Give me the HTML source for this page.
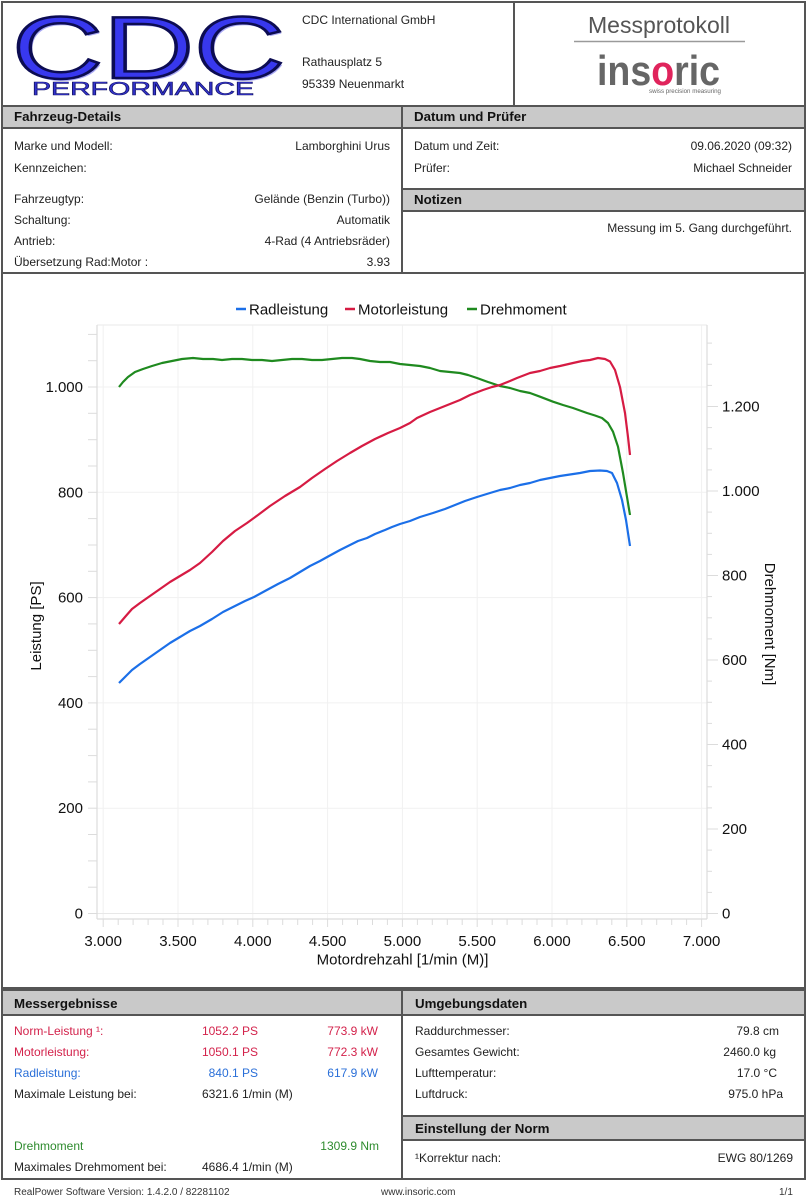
<!DOCTYPE html>
<html><head><meta charset="utf-8">
<style>
html,body{margin:0;padding:0;background:#fff;}
body{width:807px;height:1200px;position:relative;overflow:hidden;font-family:"Liberation Sans","DejaVu Sans",sans-serif;font-size:12px;color:#222;}
.box{position:absolute;border:2px solid #555;box-sizing:border-box;}
.bar{position:absolute;background:#c9c9c9;border-bottom:2px solid #555;box-sizing:border-box;}
.bt{position:absolute;font-weight:bold;font-size:13.3px;line-height:16px;color:#111;white-space:nowrap;}
.t{position:absolute;line-height:14px;white-space:nowrap;}
.r{text-align:right;}
.red{color:#d3224b;}
.blue{color:#2a6fd8;}
.green{color:#2e8b2e;}
</style></head>
<body>

<!-- Header -->
<div class="box" style="left:1px;top:1px;width:805px;height:106px;"></div>
<div style="position:absolute;left:513px;top:1px;width:2px;height:105px;background:#555;"></div>

<svg style="position:absolute;left:0;top:0" width="300" height="105" viewBox="0 0 300 105">
  <text x="14" y="80" font-family="Liberation Sans, sans-serif" font-size="88" textLength="273" lengthAdjust="spacingAndGlyphs" fill="#a9a9f5">CDC</text>
  <text x="12" y="78" font-family="Liberation Sans, sans-serif" font-size="88" textLength="273" lengthAdjust="spacingAndGlyphs" fill="#3838ee" stroke="#0c0c52" stroke-width="2.5">CDC</text>
  <text x="32" y="95" font-family="Liberation Sans, sans-serif" font-size="18" textLength="222" lengthAdjust="spacingAndGlyphs" fill="#3434d0" stroke="#14146a" stroke-width="0.6">PERFORMANCE</text>
</svg>

<div class="t" style="left:302px;top:13px;">CDC International GmbH</div>
<div class="t" style="left:302px;top:55px;">Rathausplatz 5</div>
<div class="t" style="left:302px;top:77px;">95339 Neuenmarkt</div>

<svg style="position:absolute;left:515px;top:3px" width="290" height="102" viewBox="515 3 290 102">
  <text x="659" y="33" text-anchor="middle" font-family="Liberation Sans, sans-serif" font-size="23" fill="#555" textLength="142" lengthAdjust="spacingAndGlyphs">Messprotokoll</text>
  <line x1="574" y1="41.5" x2="745" y2="41.5" stroke="#9a9a9a" stroke-width="1.5"/>
  <text x="597" y="85" font-family="Liberation Sans, sans-serif" font-weight="bold" font-size="42" fill="#666" textLength="123" lengthAdjust="spacingAndGlyphs">ins<tspan fill="#e0245c">o</tspan>ric</text>
  <text x="649" y="93" font-family="Liberation Sans, sans-serif" font-size="6.5" fill="#666" textLength="72" lengthAdjust="spacingAndGlyphs">swiss precision measuring</text>
</svg>

<!-- Fahrzeug-Details -->
<div class="box" style="left:1px;top:105px;width:402px;height:169px;"></div>
<div class="bar" style="left:3px;top:107px;width:398px;height:22px;"></div>
<div class="bt" style="left:14px;top:109px;">Fahrzeug-Details</div>
<div class="t" style="left:14px;top:139px;">Marke und Modell:</div>
<div class="t r" style="right:417px;top:139px;">Lamborghini Urus</div>
<div class="t" style="left:14px;top:161px;">Kennzeichen:</div>
<div class="t" style="left:14px;top:192px;">Fahrzeugtyp:</div>
<div class="t r" style="right:417px;top:192px;">Gelände (Benzin (Turbo))</div>
<div class="t" style="left:14px;top:213px;">Schaltung:</div>
<div class="t r" style="right:417px;top:213px;">Automatik</div>
<div class="t" style="left:14px;top:234px;">Antrieb:</div>
<div class="t r" style="right:417px;top:234px;">4-Rad (4 Antriebsräder)</div>
<div class="t" style="left:14px;top:255px;">Übersetzung Rad:Motor :</div>
<div class="t r" style="right:417px;top:255px;">3.93</div>

<!-- Datum und Prüfer -->
<div class="box" style="left:401px;top:105px;width:405px;height:85px;"></div>
<div class="bar" style="left:403px;top:107px;width:401px;height:22px;"></div>
<div class="bt" style="left:414px;top:109px;">Datum und Prüfer</div>
<div class="t" style="left:414px;top:139px;">Datum und Zeit:</div>
<div class="t r" style="right:15px;top:139px;">09.06.2020 (09:32)</div>
<div class="t" style="left:414px;top:161px;">Prüfer:</div>
<div class="t r" style="right:15px;top:161px;">Michael Schneider</div>

<!-- Notizen -->
<div class="box" style="left:401px;top:188px;width:405px;height:86px;"></div>
<div class="bar" style="left:403px;top:190px;width:401px;height:22px;"></div>
<div class="bt" style="left:414px;top:192px;">Notizen</div>
<div class="t r" style="right:15px;top:221px;">Messung im 5. Gang durchgeführt.</div>

<!-- Chart box -->
<div class="box" style="left:1px;top:272px;width:805px;height:717px;"></div>

<svg style="position:absolute;left:0;top:0" width="807" height="1000" viewBox="0 0 807 1000" font-family="Liberation Sans, DejaVu Sans, sans-serif">
  <!-- grid -->
  <g stroke="#f1f1f1" stroke-width="1">
    <line x1="97" y1="808.2" x2="707" y2="808.2"/>
    <line x1="97" y1="702.9" x2="707" y2="702.9"/>
    <line x1="97" y1="597.6" x2="707" y2="597.6"/>
    <line x1="97" y1="492.3" x2="707" y2="492.3"/>
    <line x1="97" y1="387" x2="707" y2="387"/>
    <line x1="103.2" y1="325" x2="103.2" y2="919"/>
    <line x1="178" y1="325" x2="178" y2="919"/>
    <line x1="252.8" y1="325" x2="252.8" y2="919"/>
    <line x1="327.6" y1="325" x2="327.6" y2="919"/>
    <line x1="402.4" y1="325" x2="402.4" y2="919"/>
    <line x1="477.2" y1="325" x2="477.2" y2="919"/>
    <line x1="552" y1="325" x2="552" y2="919"/>
    <line x1="626.8" y1="325" x2="626.8" y2="919"/>
    <line x1="701.6" y1="325" x2="701.6" y2="919"/>
  </g>
  <line x1="97" y1="913.5" x2="707" y2="913.5" stroke="#e8e8e8"/>
  <!-- frame -->
  <g stroke="#dcdcdc" stroke-width="1.2" fill="none">
    <line x1="97" y1="325" x2="707" y2="325" stroke="#eeeeee"/>
    <line x1="97" y1="325" x2="97" y2="919"/>
    <line x1="707" y1="325" x2="707" y2="919"/>
    <line x1="97" y1="919" x2="707" y2="919"/>
  </g>
  <!-- left ticks every 50 PS -->
  <g stroke="#dcdcdc" stroke-width="1">
    <line x1="88" y1="913.5" x2="97" y2="913.5"/><line x1="88" y1="887.2" x2="97" y2="887.2"/>
    <line x1="88" y1="860.9" x2="97" y2="860.9"/><line x1="88" y1="834.5" x2="97" y2="834.5"/>
    <line x1="88" y1="808.2" x2="97" y2="808.2"/><line x1="88" y1="781.9" x2="97" y2="781.9"/>
    <line x1="88" y1="755.6" x2="97" y2="755.6"/><line x1="88" y1="729.2" x2="97" y2="729.2"/>
    <line x1="88" y1="702.9" x2="97" y2="702.9"/><line x1="88" y1="676.6" x2="97" y2="676.6"/>
    <line x1="88" y1="650.3" x2="97" y2="650.3"/><line x1="88" y1="623.9" x2="97" y2="623.9"/>
    <line x1="88" y1="597.6" x2="97" y2="597.6"/><line x1="88" y1="571.3" x2="97" y2="571.3"/>
    <line x1="88" y1="545" x2="97" y2="545"/><line x1="88" y1="518.6" x2="97" y2="518.6"/>
    <line x1="88" y1="492.3" x2="97" y2="492.3"/><line x1="88" y1="466" x2="97" y2="466"/>
    <line x1="88" y1="439.7" x2="97" y2="439.7"/><line x1="88" y1="413.3" x2="97" y2="413.3"/>
    <line x1="88" y1="387" x2="97" y2="387"/><line x1="88" y1="360.7" x2="97" y2="360.7"/>
    <line x1="88" y1="334.4" x2="97" y2="334.4"/>
  </g>
  <!-- right ticks every 50 Nm -->
  <g stroke="#dcdcdc" stroke-width="1">
    <line x1="707" y1="913.5" x2="718" y2="913.5"/><line x1="707" y1="892.4" x2="712" y2="892.4"/>
    <line x1="707" y1="871.3" x2="712" y2="871.3"/><line x1="707" y1="850.1" x2="712" y2="850.1"/>
    <line x1="707" y1="829" x2="718" y2="829"/><line x1="707" y1="807.9" x2="712" y2="807.9"/>
    <line x1="707" y1="786.8" x2="712" y2="786.8"/><line x1="707" y1="765.6" x2="712" y2="765.6"/>
    <line x1="707" y1="744.5" x2="718" y2="744.5"/><line x1="707" y1="723.4" x2="712" y2="723.4"/>
    <line x1="707" y1="702.3" x2="712" y2="702.3"/><line x1="707" y1="681.1" x2="712" y2="681.1"/>
    <line x1="707" y1="660" x2="718" y2="660"/><line x1="707" y1="638.9" x2="712" y2="638.9"/>
    <line x1="707" y1="617.8" x2="712" y2="617.8"/><line x1="707" y1="596.6" x2="712" y2="596.6"/>
    <line x1="707" y1="575.5" x2="718" y2="575.5"/><line x1="707" y1="554.4" x2="712" y2="554.4"/>
    <line x1="707" y1="533.3" x2="712" y2="533.3"/><line x1="707" y1="512.1" x2="712" y2="512.1"/>
    <line x1="707" y1="491" x2="718" y2="491"/><line x1="707" y1="469.9" x2="712" y2="469.9"/>
    <line x1="707" y1="448.8" x2="712" y2="448.8"/><line x1="707" y1="427.6" x2="712" y2="427.6"/>
    <line x1="707" y1="406.5" x2="718" y2="406.5"/><line x1="707" y1="385.4" x2="712" y2="385.4"/>
    <line x1="707" y1="364.3" x2="712" y2="364.3"/><line x1="707" y1="343.1" x2="712" y2="343.1"/>
  </g>
  <!-- x ticks every 100 rpm -->
  <g stroke="#dcdcdc" stroke-width="1">
    <line x1="103.2" y1="919" x2="103.2" y2="927"/><line x1="118.2" y1="919" x2="118.2" y2="925"/>
    <line x1="133.1" y1="919" x2="133.1" y2="925"/><line x1="148.1" y1="919" x2="148.1" y2="925"/>
    <line x1="163.0" y1="919" x2="163.0" y2="925"/><line x1="178" y1="919" x2="178" y2="927"/>
    <line x1="193.0" y1="919" x2="193.0" y2="925"/><line x1="207.9" y1="919" x2="207.9" y2="925"/>
    <line x1="222.9" y1="919" x2="222.9" y2="925"/><line x1="237.8" y1="919" x2="237.8" y2="925"/>
    <line x1="252.8" y1="919" x2="252.8" y2="927"/><line x1="267.8" y1="919" x2="267.8" y2="925"/>
    <line x1="282.7" y1="919" x2="282.7" y2="925"/><line x1="297.7" y1="919" x2="297.7" y2="925"/>
    <line x1="312.6" y1="919" x2="312.6" y2="925"/><line x1="327.6" y1="919" x2="327.6" y2="927"/>
    <line x1="342.6" y1="919" x2="342.6" y2="925"/><line x1="357.5" y1="919" x2="357.5" y2="925"/>
    <line x1="372.5" y1="919" x2="372.5" y2="925"/><line x1="387.4" y1="919" x2="387.4" y2="925"/>
    <line x1="402.4" y1="919" x2="402.4" y2="927"/><line x1="417.4" y1="919" x2="417.4" y2="925"/>
    <line x1="432.3" y1="919" x2="432.3" y2="925"/><line x1="447.3" y1="919" x2="447.3" y2="925"/>
    <line x1="462.2" y1="919" x2="462.2" y2="925"/><line x1="477.2" y1="919" x2="477.2" y2="927"/>
    <line x1="492.2" y1="919" x2="492.2" y2="925"/><line x1="507.1" y1="919" x2="507.1" y2="925"/>
    <line x1="522.1" y1="919" x2="522.1" y2="925"/><line x1="537.0" y1="919" x2="537.0" y2="925"/>
    <line x1="552" y1="919" x2="552" y2="927"/><line x1="567.0" y1="919" x2="567.0" y2="925"/>
    <line x1="581.9" y1="919" x2="581.9" y2="925"/><line x1="596.9" y1="919" x2="596.9" y2="925"/>
    <line x1="611.8" y1="919" x2="611.8" y2="925"/><line x1="626.8" y1="919" x2="626.8" y2="927"/>
    <line x1="641.8" y1="919" x2="641.8" y2="925"/><line x1="656.7" y1="919" x2="656.7" y2="925"/>
    <line x1="671.7" y1="919" x2="671.7" y2="925"/><line x1="686.6" y1="919" x2="686.6" y2="925"/>
    <line x1="701.6" y1="919" x2="701.6" y2="927"/>
  </g>

  <!-- left labels -->
  <g font-size="15" fill="#111" text-anchor="end">
    <text x="83" y="918.5">0</text>
    <text x="83" y="813.2">200</text>
    <text x="83" y="707.9">400</text>
    <text x="83" y="602.6">600</text>
    <text x="83" y="497.3">800</text>
    <text x="83" y="392">1.000</text>
  </g>
  <!-- right labels -->
  <g font-size="15" fill="#111" text-anchor="start">
    <text x="722" y="918.5">0</text>
    <text x="722" y="834">200</text>
    <text x="722" y="749.5">400</text>
    <text x="722" y="665">600</text>
    <text x="722" y="580.5">800</text>
    <text x="722" y="496">1.000</text>
    <text x="722" y="411.5">1.200</text>
  </g>
  <!-- x labels -->
  <g font-size="15" fill="#111" text-anchor="middle">
    <text x="103.2" y="946">3.000</text>
    <text x="178" y="946">3.500</text>
    <text x="252.8" y="946">4.000</text>
    <text x="327.6" y="946">4.500</text>
    <text x="402.4" y="946">5.000</text>
    <text x="477.2" y="946">5.500</text>
    <text x="552" y="946">6.000</text>
    <text x="626.8" y="946">6.500</text>
    <text x="701.6" y="946">7.000</text>
  </g>
  <text x="402.5" y="964.5" font-size="15" fill="#111" text-anchor="middle">Motordrehzahl [1/min (M)]</text>
  <text transform="translate(41,626) rotate(-90)" font-size="15" fill="#111" text-anchor="middle">Leistung [PS]</text>
  <text transform="translate(765,624) rotate(90)" font-size="15" fill="#111" text-anchor="middle">Drehmoment [Nm]</text>

  <!-- legend -->
  <line x1="236" y1="309" x2="246" y2="309" stroke="#1b6fe8" stroke-width="2.5"/>
  <text x="249" y="314.5" font-size="15" fill="#111">Radleistung</text>
  <line x1="345" y1="309" x2="355" y2="309" stroke="#d61b43" stroke-width="2.5"/>
  <text x="358" y="314.5" font-size="15" fill="#111">Motorleistung</text>
  <line x1="467" y1="309" x2="477" y2="309" stroke="#1f8a1f" stroke-width="2.5"/>
  <text x="480" y="314.5" font-size="15" fill="#111">Drehmoment</text>

  <!-- series -->
  <polyline fill="none" stroke="#1f8a1f" stroke-width="2.2" stroke-linejoin="round" points="119,387 123,382 128,377 135,372 143,369 152,366 162,363 172,361 182,359 193,358 203,359 213,359 222,360 232,359 242,359 252,360 262,360 272,361 282,360 292,359 302,359 312,360 322,360 332,359 342,358 352,358 360,359 370,361 380,362 390,362 400,364 410,365 420,366 430,368 440,371 450,372 460,373 468,375 477,378 488,382 500,386 510,388 520,391 530,393 540,396.7 553,401.7 563,405 573,408 587,413 595,415.5 602,418 608,423 613,431.7 618,446.7 623,473 627,497 630,515"/>
  <polyline fill="none" stroke="#d61b43" stroke-width="2.2" stroke-linejoin="round" points="119,624 125,617 132,609 140,603 150,596 160,589 170,582 180,576 190,570 200,563 212,552 223,541 235,531 247,523 258,515 270,506 285,496 300,487 312,478 325,469 337,461 350,453 362,446 375,439 388,433 400,428 410,423 417,418 430,412 440,408 450,404 460,400 470,395 483,390 492,387 500,385 510,381 517,378 530,373 540,371 550,368 560,366 573,363 582,361 590,360 598,358 605,359 610,361.5 615,370 620,387 625,413 628,437 630,455"/>
  <polyline fill="none" stroke="#1b6fe8" stroke-width="2.2" stroke-linejoin="round" points="119,683 125,677 132,670 140,664 150,657 160,650 170,643 180,637 190,631 200,626 212,619 223,612 235,606 245,601 254,597 265,591 278,584 290,578 300,572 310,566 320,561 329,556 340,550 350,545 358,541 367,538 375,534 385,530 392,527 400,524 410,521 420,517 433,513 445,509 455,505 465,501 477,497 490,493 500,490 510,488 520,485 530,483 540,480 550,478 560,476 570,474.5 580,473 590,471 600,470.5 607,471 612,473 617,483 622,500 626,520 630,546"/>
</svg>

<!-- Messergebnisse -->
<div class="box" style="left:1px;top:989px;width:402px;height:191px;"></div>
<div class="bar" style="left:3px;top:991px;width:398px;height:25px;"></div>
<div class="bt" style="left:14px;top:996px;">Messergebnisse</div>
<div class="t red" style="left:14px;top:1024px;">Norm-Leistung ¹:</div>
<div class="t r red" style="right:549px;top:1024px;">1052.2 PS</div>
<div class="t r red" style="right:429px;top:1024px;">773.9 kW</div>
<div class="t red" style="left:14px;top:1045px;">Motorleistung:</div>
<div class="t r red" style="right:549px;top:1045px;">1050.1 PS</div>
<div class="t r red" style="right:429px;top:1045px;">772.3 kW</div>
<div class="t blue" style="left:14px;top:1066px;">Radleistung:</div>
<div class="t r blue" style="right:549px;top:1066px;">840.1 PS</div>
<div class="t r blue" style="right:429px;top:1066px;">617.9 kW</div>
<div class="t" style="left:14px;top:1087px;">Maximale Leistung bei:</div>
<div class="t" style="left:202px;top:1087px;">6321.6 1/min (M)</div>
<div class="t green" style="left:14px;top:1139px;">Drehmoment</div>
<div class="t r green" style="right:428px;top:1139px;">1309.9 Nm</div>
<div class="t" style="left:14px;top:1160px;">Maximales Drehmoment bei:</div>
<div class="t" style="left:202px;top:1160px;">4686.4 1/min (M)</div>

<!-- Umgebungsdaten -->
<div class="box" style="left:401px;top:989px;width:405px;height:128px;"></div>
<div class="bar" style="left:403px;top:991px;width:401px;height:25px;"></div>
<div class="bt" style="left:415px;top:996px;">Umgebungsdaten</div>
<div class="t" style="left:415px;top:1024px;">Raddurchmesser:</div>
<div class="t r" style="right:28px;top:1024px;">79.8 cm</div>
<div class="t" style="left:415px;top:1045px;">Gesamtes Gewicht:</div>
<div class="t r" style="right:31px;top:1045px;">2460.0 kg</div>
<div class="t" style="left:415px;top:1066px;">Lufttemperatur:</div>
<div class="t r" style="right:30px;top:1066px;">17.0 °C</div>
<div class="t" style="left:415px;top:1087px;">Luftdruck:</div>
<div class="t r" style="right:24px;top:1087px;">975.0 hPa</div>

<!-- Einstellung der Norm -->
<div class="box" style="left:401px;top:1115px;width:405px;height:65px;"></div>
<div class="bar" style="left:403px;top:1117px;width:401px;height:24px;"></div>
<div class="bt" style="left:415px;top:1121px;">Einstellung der Norm</div>
<div class="t" style="left:415px;top:1151px;">¹Korrektur nach:</div>
<div class="t r" style="right:14px;top:1151px;">EWG 80/1269</div>

<!-- Footer -->
<div class="t" style="left:14px;top:1187px;font-size:10px;line-height:12px;color:#333;">RealPower Software Version: 1.4.2.0 / 82281102</div>
<div class="t" style="left:381px;top:1187px;font-size:10px;line-height:12px;color:#333;">www.insoric.com</div>
<div class="t" style="left:779px;top:1187px;font-size:10px;line-height:12px;color:#333;">1/1</div>

</body></html>
